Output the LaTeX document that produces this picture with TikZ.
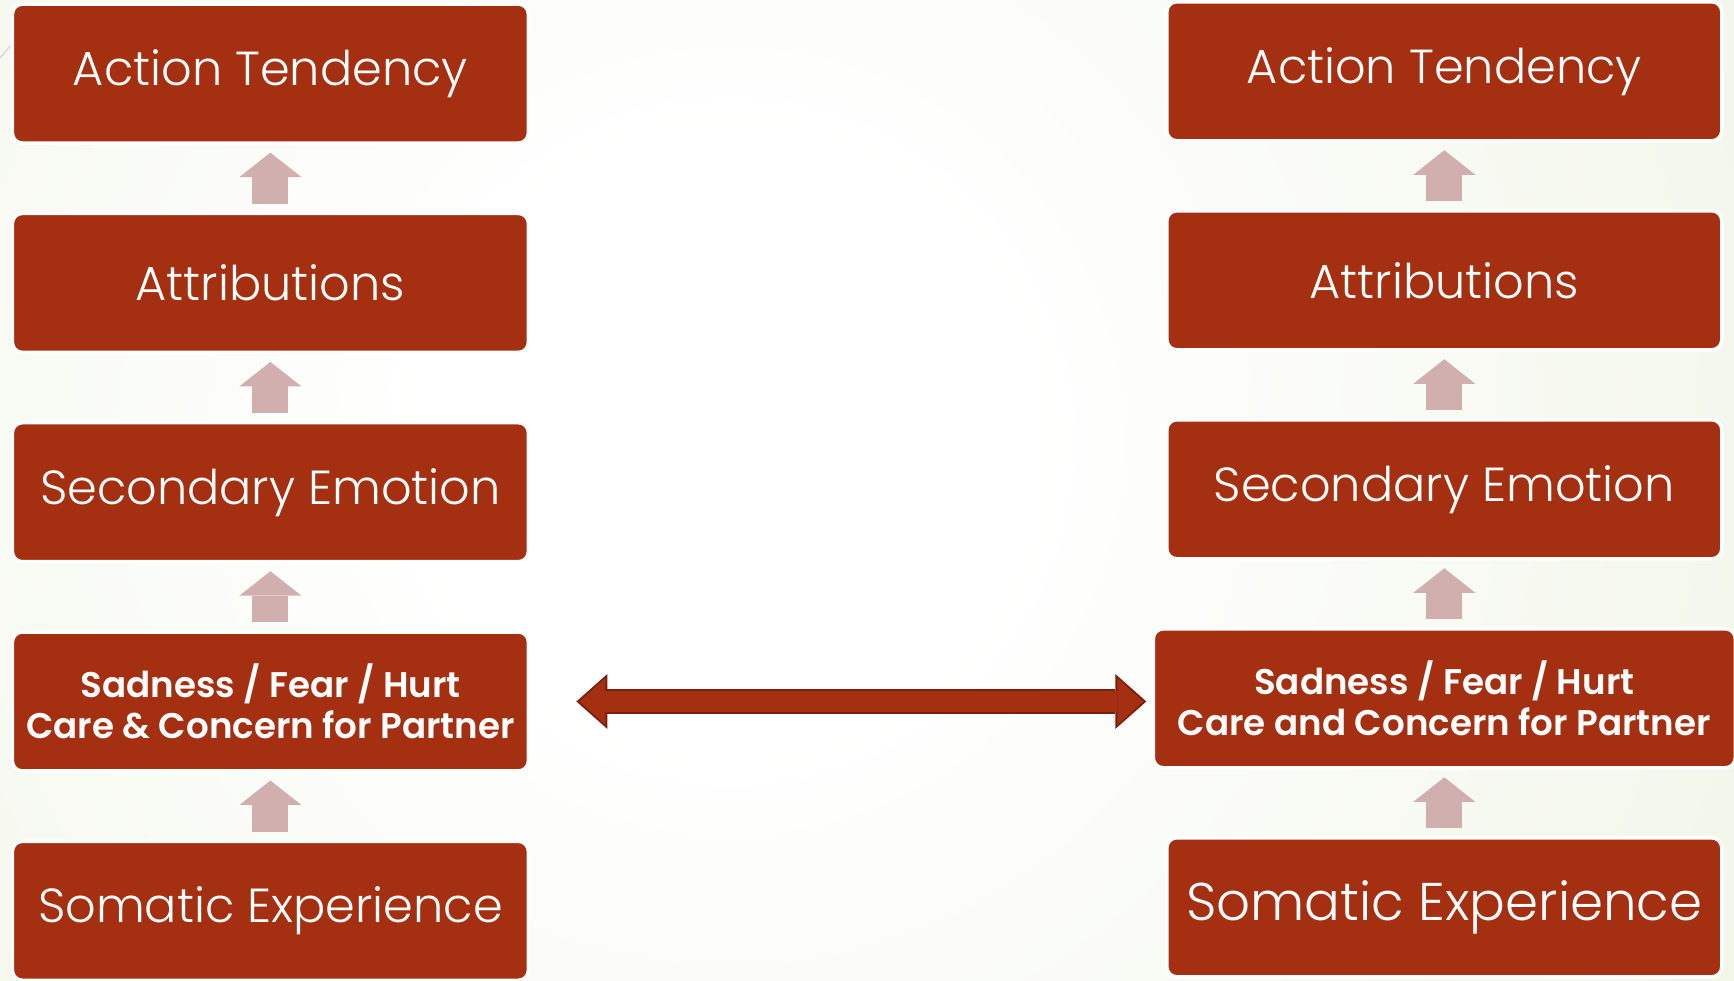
\documentclass[tikz,border=0pt]{standalone}
\usepackage{fontspec}
\setmainfont{Poppins}[UprightFont=* Light, BoldFont=* SemiBold]
\usetikzlibrary{positioning,calc,arrows.meta}
\definecolor{boxred}{HTML}{A52F11}
\definecolor{darkred}{HTML}{78200C}
\definecolor{uppink}{HTML}{D0AFAE}
\definecolor{bggreen}{HTML}{E4ECD2}
\pgfdeclareradialshading{bgshade}{\pgfpoint{0bp}{0bp}}{color(0bp)=(white); color(6bp)=(white); color(40bp)=(bggreen); color(50bp)=(bggreen)}
\tikzset{
  card/.style={draw=white, line width=1pt, fill=boxred, rounded corners=0.1cm,
    text=white, minimum height=1.39cm, inner sep=0pt, outer sep=0pt, align=center,
    font=\fontsize{13.6}{16}\selectfont},
  lcard/.style={card, minimum width=5.16cm},
  rcard/.style={card, minimum width=5.55cm},
  boldtext/.style={font=\fontsize{10.15}{11.7}\selectfont\bfseries},
  uparrow/.style={uppink, line width=0.36cm, shorten <=0.095cm, shorten >=0.095cm,
    -{Triangle[width=0.62cm, length=0.245cm, line width=0pt]}},
}
\begin{document}
\begin{tikzpicture}
    \useasboundingbox (0,0) rectangle (17.34,9.81);
    % Background
    \begin{scope}
        \clip (0,0) rectangle (17.34,9.81);
        \shade[shading=bgshade] (7.3,5.4) circle (12.5cm);
        \draw[black!15, line width=0.4pt] (0,9.23) -- (0.12,9.37);
    \end{scope}

    % Left column
    \node[lcard] (l1) at (2.704,9.074) {Action Tendency};
    \node[lcard, below=0.703cm of l1] (l2) {Attributions};
    \node[lcard, below=0.703cm of l2] (l3) {Secondary Emotion};
    \node[lcard, below=0.703cm of l3, boldtext] (l4) {Sadness / Fear / Hurt\\Care \& Concern for Partner};
    \node[lcard, below=0.703cm of l4] (l5) {Somatic Experience};

    % Right column
    \node[rcard] (r1) at (14.443,9.097) {Action Tendency};
    \node[rcard, below=0.70cm of r1] (r2) {Attributions};
    \node[rcard, below=0.70cm of r2] (r3) {Secondary Emotion};
    \node[rcard, below=0.70cm of r3, minimum width=5.82cm, boldtext] (r4) {Sadness / Fear / Hurt\\Care and Concern for Partner};
    \node[rcard, below=0.70cm of r4, font=\fontsize{15.1}{18}\selectfont] (r5) {Somatic Experience};

    % Arrows
    \foreach \a/\b in {l5/l4,l4/l3,l3/l2,l2/l1,r5/r4,r4/r3,r3/r2,r2/r1} {
        \draw[uparrow] (\a.north) -- (\b.south);
    }
    \draw[darkred, line width=0.25cm, shorten <=0.48cm, shorten >=0.07cm, yshift=-0.35mm,
        {Triangle[width=0.55cm, length=0.31cm, line width=0pt]}-{Triangle[width=0.55cm, length=0.31cm, line width=0pt]}]
        (l4.east) -- (l4.east -| r4.west);
    \draw[boxred, line width=0.205cm, shorten <=0.51cm, shorten >=0.10cm, yshift=-0.35mm,
        {Triangle[width=0.47cm, length=0.26cm, line width=0pt]}-{Triangle[width=0.47cm, length=0.26cm, line width=0pt]}]
        (l4.east) -- (l4.east -| r4.west);
\end{tikzpicture}
\end{document}
